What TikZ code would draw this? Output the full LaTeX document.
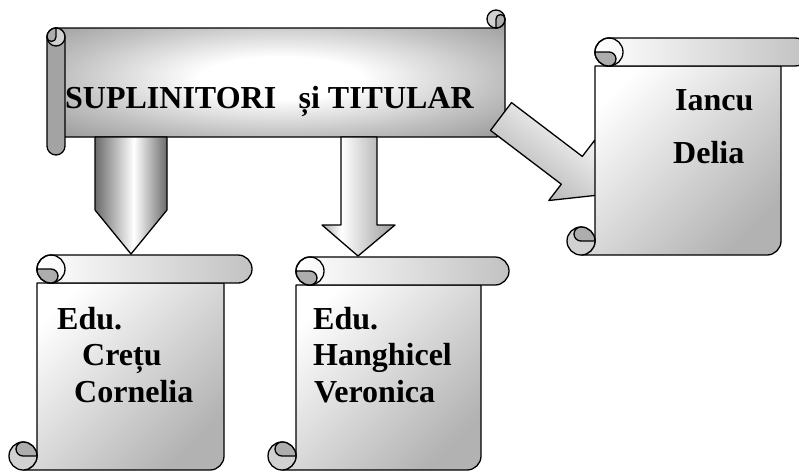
\documentclass[tikz,border=0pt]{standalone}
\usepackage{fontspec}
\setmainfont{Liberation Serif}
\definecolor{ga}{gray}{0.42}
\definecolor{gb}{gray}{0.66}
\definecolor{gc}{gray}{0.60}
\definecolor{gd}{gray}{0.62}
\definecolor{ge}{gray}{0.76}
\definecolor{gsb}{gray}{0.70}
\definecolor{gsr}{gray}{0.76}
\definecolor{gcl}{gray}{0.82}
\definecolor{gcd}{gray}{0.68}
\definecolor{gtube}{gray}{0.64}
\definecolor{gdiag}{gray}{0.68}
\pgfdeclarehorizontalshading{cylA}{100bp}{color(0bp)=(ga); color(25bp)=(ga); color(52bp)=(white); color(75bp)=(ga); color(100bp)=(ga)}
\pgfdeclarehorizontalshading{cylB}{100bp}{color(0bp)=(gb); color(25bp)=(gb); color(38bp)=(white); color(75bp)=(gc); color(100bp)=(gc)}
\pgfdeclareradialshading{bannershade}{\pgfpoint{0bp}{0bp}}{color(0bp)=(white); color(9bp)=(white); color(24bp)=(ge); color(34bp)=(gd); color(50bp)=(gd)}
\tikzset{
  ol/.style={draw=black, line width=1.3pt, line join=round},
  scrollbody/.style={ol, top color=white, bottom color=gsb, shading angle=45},
  rollfill/.style={ol, left color=white, right color=gsr},
  curlfill/.style={ol, fill=gcl},
  curldark/.style={ol, fill=gcd},
  lbl/.style={inner sep=0pt, anchor=base west, font=\fontsize{32}{38}\selectfont\bfseries},
}
% vertical scroll: #1 left x, #2 top y, #3 right x, #4 bottom y (pixel coords, y down)
\newcommand\vscroll[4]{%
  \path[scrollbody] ({#1+28},{#2+28}) -- ({#1+28},{#4-14}) arc[start angle=0,end angle=90,radius=14]
     -- ({#3-42},#4) arc[start angle=90,end angle=0,radius=14] -- ({#3-28},{#2+28}) -- cycle;
  \path[curlfill] ({#1+14},{#4-14}) circle[radius=14];
  \path[curldark] ({#1+14},{#4-14}) arc[start angle=90,end angle=270,radius=7]
     arc[start angle=270,end angle=360,radius=14] -- cycle;
  \path[rollfill] ({#1+42},#2) -- ({#3-14},#2) arc[start angle=270,end angle=450,radius=14]
     -- ({#1+42},{#2+28}) arc[start angle=90,end angle=270,radius=14] -- cycle;
  \path[ol] ({#1+42},{#2+14}) circle[radius=14];
  \path[curldark] ({#1+42},{#2+14}) arc[start angle=270,end angle=450,radius=7]
     arc[start angle=90,end angle=180,radius=14] -- cycle;
}
\begin{document}
\begin{tikzpicture}[x=1pt,y=-1pt]
\useasboundingbox (0,0) rectangle (799,471);
\clip (0,0) rectangle (799,471);
% banner (horizontal scroll)
\path[ol, shade, shading=bannershade] (56,28) -- (496,28) arc[start angle=90,end angle=0,radius=9]
   -- (505,128) arc[start angle=0,end angle=90,radius=9] -- (56,137) -- cycle;
\path[curlfill] (496,19) circle[radius=9];
\path[curldark] (496,19) arc[start angle=180,end angle=360,radius=4.5]
   arc[start angle=0,end angle=90,radius=9] -- cycle;
\path[ol, fill=gtube] (47,37) -- (47,146) arc[start angle=180,end angle=0,radius=9]
   -- (65,37) arc[start angle=0,end angle=-180,radius=9] -- cycle;
\path[curlfill] (56,37) circle[radius=9];
\path[curldark] (56,37) arc[start angle=0,end angle=180,radius=4.5]
   arc[start angle=180,end angle=270,radius=9] -- cycle;
\node[lbl] (title) at (65,108) {SUPLINITORI\hspace{0.45em} și TITULAR};
% arrows
\path[ol, shade, shading=cylA] (95,137) -- (167,137) -- (167,210) -- (131,254) -- (95,210) -- cycle;
\path[ol, shade, shading=cylB] (341,137) -- (377,137) -- (377,225) -- (395,225) -- (358,256)
   -- (322,225) -- (341,225) -- cycle;
\path[ol, top color=white, bottom color=gdiag, shading angle=-37]
   (511.5,102.6) -- (582.3,156.4) -- (594.8,140.1) -- (603.7,194.5) -- (548.8,200.5)
   -- (561.3,184.2) -- (490.5,130.4) -- cycle;
% scrolls
\vscroll{567}{38}{809}{255}
\vscroll{9}{255}{252}{470}
\vscroll{268}{257}{509}{470}
% texts
\node[lbl] (i1) at (675,110) {Iancu};
\node[lbl] (i2) at (673,163) {Delia};
\node[lbl] (a1) at (57,329) {Edu.};
\node[lbl] (a2) at (82,365) {Crețu};
\node[lbl] (a3) at (74,402) {Cornelia};
\node[lbl] (b1) at (313,329) {Edu.};
\node[lbl] (b2) at (313,365) {Hanghicel};
\node[lbl] (b3) at (314,402) {Veronica};
\end{tikzpicture}
\end{document}
